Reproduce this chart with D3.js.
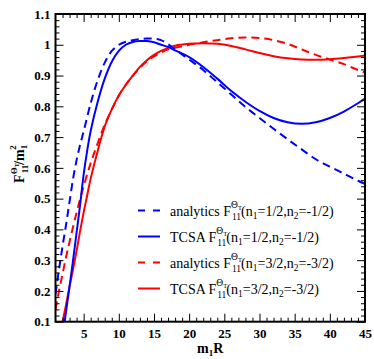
<!DOCTYPE html>
<html>
<head>
<meta charset="utf-8">
<script src="https://cdn.jsdelivr.net/npm/d3@7"></script>
<style>
  html, body { margin: 0; padding: 0; background: #fff; }
  svg { display: block; }
  svg text { font-family: "Liberation Serif", "Times New Roman", "DejaVu Serif", serif; }
</style>
</head>
<body>
<svg id="chart" width="374" height="359"></svg>
<script>
// ---------- data ----------
const xTicks = [5, 10, 15, 20, 25, 30, 35, 40, 45];
const yTicks = [0.1, 0.2, 0.3, 0.4, 0.5, 0.6, 0.7, 0.8, 0.9, 1.0, 1.1];
const yTickLabels = ["0.1", "0.2", "0.3", "0.4", "0.5", "0.6", "0.7", "0.8", "0.9", "1", "1.1"];

const analyticsHalfX = [1, 1.5, 2, 2.5, 3, 3.5, 4, 4.5, 5, 6, 7, 8, 9, 10, 11, 12, 13, 14, 15, 16, 17, 18, 20, 22, 24, 26, 28, 30, 32, 34, 36, 38, 40, 42, 44, 45];
const analyticsHalfY = [0.19, 0.27, 0.345, 0.415, 0.49, 0.565, 0.625, 0.675, 0.718, 0.81, 0.885, 0.942, 0.98, 1.0, 1.01, 1.015, 1.018, 1.02, 1.02, 1.015, 1.002, 0.985, 0.952, 0.918, 0.878, 0.838, 0.798, 0.762, 0.727, 0.693, 0.66, 0.628, 0.604, 0.581, 0.558, 0.548];

const tcsaHalfX = [2.3, 3, 3.5, 4, 4.5, 5, 5.5, 6, 7, 8, 9, 10, 11, 12, 13, 14, 15, 16, 17, 18, 20, 22, 24, 26, 28, 30, 32, 34, 36, 38, 40, 42, 44, 45];
const tcsaHalfY = [0.1, 0.215, 0.3, 0.39, 0.48, 0.578, 0.655, 0.72, 0.815, 0.89, 0.945, 0.98, 1.0, 1.009, 1.012, 1.012, 1.008, 1.0, 0.993, 0.982, 0.96, 0.928, 0.89, 0.85, 0.815, 0.785, 0.762, 0.748, 0.743, 0.748, 0.762, 0.783, 0.81, 0.825];

const analyticsThreeHalfX = [1, 1.5, 2, 2.5, 3, 4, 5, 6, 7, 8, 9, 10, 11, 12, 13, 14, 15, 16, 17, 18, 20, 22, 24, 26, 28, 30, 32, 34, 36, 38, 40, 42, 44, 45];
const analyticsThreeHalfY = [0.14, 0.2, 0.255, 0.31, 0.36, 0.455, 0.54, 0.615, 0.68, 0.74, 0.79, 0.835, 0.87, 0.9, 0.925, 0.947, 0.962, 0.975, 0.985, 0.99, 1.0, 1.008, 1.015, 1.021, 1.024, 1.022, 1.015, 1.003, 0.985, 0.967, 0.952, 0.937, 0.918, 0.91];

const tcsaThreeHalfX = [2, 2.5, 3, 3.5, 4, 4.5, 5, 5.5, 6, 7, 8, 9, 10, 11, 12, 13, 14, 15, 16, 17, 18, 20, 22, 24, 26, 28, 30, 32, 34, 36, 38, 40, 42, 44, 45];
const tcsaThreeHalfY = [0.1, 0.155, 0.215, 0.27, 0.33, 0.395, 0.455, 0.51, 0.565, 0.655, 0.735, 0.79, 0.835, 0.87, 0.9, 0.928, 0.95, 0.967, 0.98, 0.99, 0.997, 1.003, 1.005, 1.003, 0.996, 0.985, 0.973, 0.963, 0.956, 0.952, 0.951, 0.953, 0.957, 0.962, 0.965];

const seriesNames = ["analytics", "TCSA", "analytics", "TCSA"];
const seriesN1 = ["1/2", "1/2", "3/2", "3/2"];
const seriesN2 = ["-1/2", "-1/2", "-3/2", "-3/2"];
const seriesColors = ["#0000ff", "#0000ff", "#ff0000", "#ff0000"];
const seriesDashed = [true, false, true, false];

// ---------- layout ----------
const margin = { left: 55.5, right: 9, top: 14, bottom: 37.3 };
const W = 374, H = 359;
const svg = d3.select("#chart");
const x = d3.scaleLinear().domain([1, 45]).range([margin.left, W - margin.right]);
const y = d3.scaleLinear().domain([0.1, 1.1]).range([H - margin.bottom, margin.top]);

const serif = '"Liberation Serif", "Times New Roman", "DejaVu Serif", serif';

// clip
svg.append("defs").append("clipPath").attr("id", "clip")
  .append("rect").attr("x", x(1)).attr("y", y(1.1))
  .attr("width", x(45) - x(1)).attr("height", y(0.1) - y(1.1));

// ---------- curves ----------
const series = [
  [analyticsHalfX, analyticsHalfY],
  [tcsaHalfX, tcsaHalfY],
  [analyticsThreeHalfX, analyticsThreeHalfY],
  [tcsaThreeHalfX, tcsaThreeHalfY]
];
const line = d3.line().x(d => x(d[0])).y(d => y(d[1])).curve(d3.curveCatmullRom.alpha(0.5));
const gLines = svg.append("g").attr("clip-path", "url(#clip)");
[2, 3, 0, 1].forEach(i => {
  const pts = series[i][0].map((v, k) => [v, series[i][1][k]]);
  gLines.append("path").datum(pts)
    .attr("d", line)
    .attr("fill", "none")
    .attr("stroke", seriesColors[i])
    .attr("stroke-width", 2)
    .attr("stroke-dasharray", seriesDashed[i] ? "8,5" : null);
});

// ---------- axes ----------
const minorX = d3.range(2, 46, 1).filter(v => v % 5 !== 0);
const minorY = d3.range(0.12, 1.1, 0.02).filter(v => Math.abs(v * 10 - Math.round(v * 10)) > 0.01);

function styleAxis(g) {
  g.select(".domain").remove();
  g.attr("font-family", null).attr("font-size", null);
  g.selectAll("line").attr("stroke", "#000").attr("stroke-width", 1);
}
function styleLabels(g) {
  g.selectAll("text")
    .style("font-family", serif)
    .style("font-weight", "bold")
    .style("font-size", "13px")
    .attr("fill", "#000");
}
// bottom
svg.append("g").attr("transform", `translate(0,${y(0.1)})`)
  .call(d3.axisBottom(x).tickValues(xTicks).tickSize(-8).tickFormat(d3.format("d")))
  .call(styleAxis).call(styleLabels)
  .call(g => g.selectAll("text").attr("y", 7).attr("dy", "0.71em"));
svg.append("g").attr("transform", `translate(0,${y(0.1)})`)
  .call(d3.axisBottom(x).tickValues(minorX).tickSize(-4).tickFormat(""))
  .call(styleAxis);
// top
svg.append("g").attr("transform", `translate(0,${y(1.1)})`)
  .call(d3.axisTop(x).tickValues(xTicks).tickSize(-8).tickFormat(""))
  .call(styleAxis);
svg.append("g").attr("transform", `translate(0,${y(1.1)})`)
  .call(d3.axisTop(x).tickValues(minorX).tickSize(-4).tickFormat(""))
  .call(styleAxis);
// left
svg.append("g").attr("transform", `translate(${x(1)},0)`)
  .call(d3.axisLeft(y).tickValues(yTicks).tickSize(-8).tickFormat((d, i) => yTickLabels[i]))
  .call(styleAxis).call(styleLabels)
  .call(g => g.selectAll("text").attr("x", -5));
svg.append("g").attr("transform", `translate(${x(1)},0)`)
  .call(d3.axisLeft(y).tickValues(minorY).tickSize(-4).tickFormat(""))
  .call(styleAxis);
// right
svg.append("g").attr("transform", `translate(${x(45)},0)`)
  .call(d3.axisRight(y).tickValues(yTicks).tickSize(-8).tickFormat(""))
  .call(styleAxis);
svg.append("g").attr("transform", `translate(${x(45)},0)`)
  .call(d3.axisRight(y).tickValues(minorY).tickSize(-4).tickFormat(""))
  .call(styleAxis);

// frame
svg.append("rect").attr("x", x(1)).attr("y", y(1.1))
  .attr("width", x(45) - x(1)).attr("height", y(0.1) - y(1.1))
  .attr("fill", "none").attr("stroke", "#000").attr("stroke-width", 2);

// ---------- axis titles ----------
const xt = svg.append("text").attr("x", (x(1) + x(45)) / 2).attr("y", 353)
  .attr("text-anchor", "middle")
  .style("font-family", serif).style("font-weight", "bold").style("font-size", "14px");
xt.append("tspan").text("m");
xt.append("tspan").style("font-size", "9px").attr("dy", 3).text("1");
xt.append("tspan").attr("dy", -3).text("R");

const yt = svg.append("text")
  .attr("transform", `translate(24,${(y(0.1) + y(1.1)) / 2 - 4}) rotate(-90)`)
  .attr("text-anchor", "middle")
  .style("font-family", serif).style("font-weight", "bold").style("font-size", "14px");
yt.append("tspan").text("F");
yt.append("tspan").style("font-size", "9px").attr("dy", -7).text("Θ");
yt.append("tspan").style("font-size", "6px").attr("dy", 2).text("T");
yt.append("tspan").style("font-size", "9px").attr("dx", -10).attr("dy", 9).text("11");
yt.append("tspan").attr("dy", -4).text("/m");
yt.append("tspan").style("font-size", "9px").attr("dy", 3).text("1");
yt.append("tspan").style("font-size", "9px").attr("dx", -5).attr("dy", -11).text("2");

// ---------- legend ----------
const legY0 = 210.5, legDy = 26;
seriesNames.forEach((name, i) => {
  const ly = legY0 + i * legDy;
  svg.append("line").attr("x1", 138).attr("x2", 160).attr("y1", ly).attr("y2", ly)
    .attr("stroke", seriesColors[i]).attr("stroke-width", 2)
    .attr("stroke-dasharray", seriesDashed[i] ? "7,8" : null);
  const t = svg.append("text").attr("x", 170).attr("y", ly + 5)
    .style("font-family", serif).style("font-size", "14px").attr("fill", "#000");
  t.append("tspan").text(name + " F");
  t.append("tspan").style("font-size", "9.5px").attr("dy", -8).text("Θ");
  t.append("tspan").style("font-size", "6.5px").attr("dy", 2).text("T");
  t.append("tspan").style("font-size", "9.5px").attr("dx", -10).attr("dy", 10).text("11");
  t.append("tspan").attr("dy", -4).text("(n");
  t.append("tspan").style("font-size", "9.5px").attr("dy", 3).text("1");
  t.append("tspan").attr("dy", -3).text("=" + seriesN1[i] + ",n");
  t.append("tspan").style("font-size", "9.5px").attr("dy", 3).text("2");
  t.append("tspan").attr("dy", -3).text("=" + seriesN2[i] + ")");
});
</script>
</body>
</html>
